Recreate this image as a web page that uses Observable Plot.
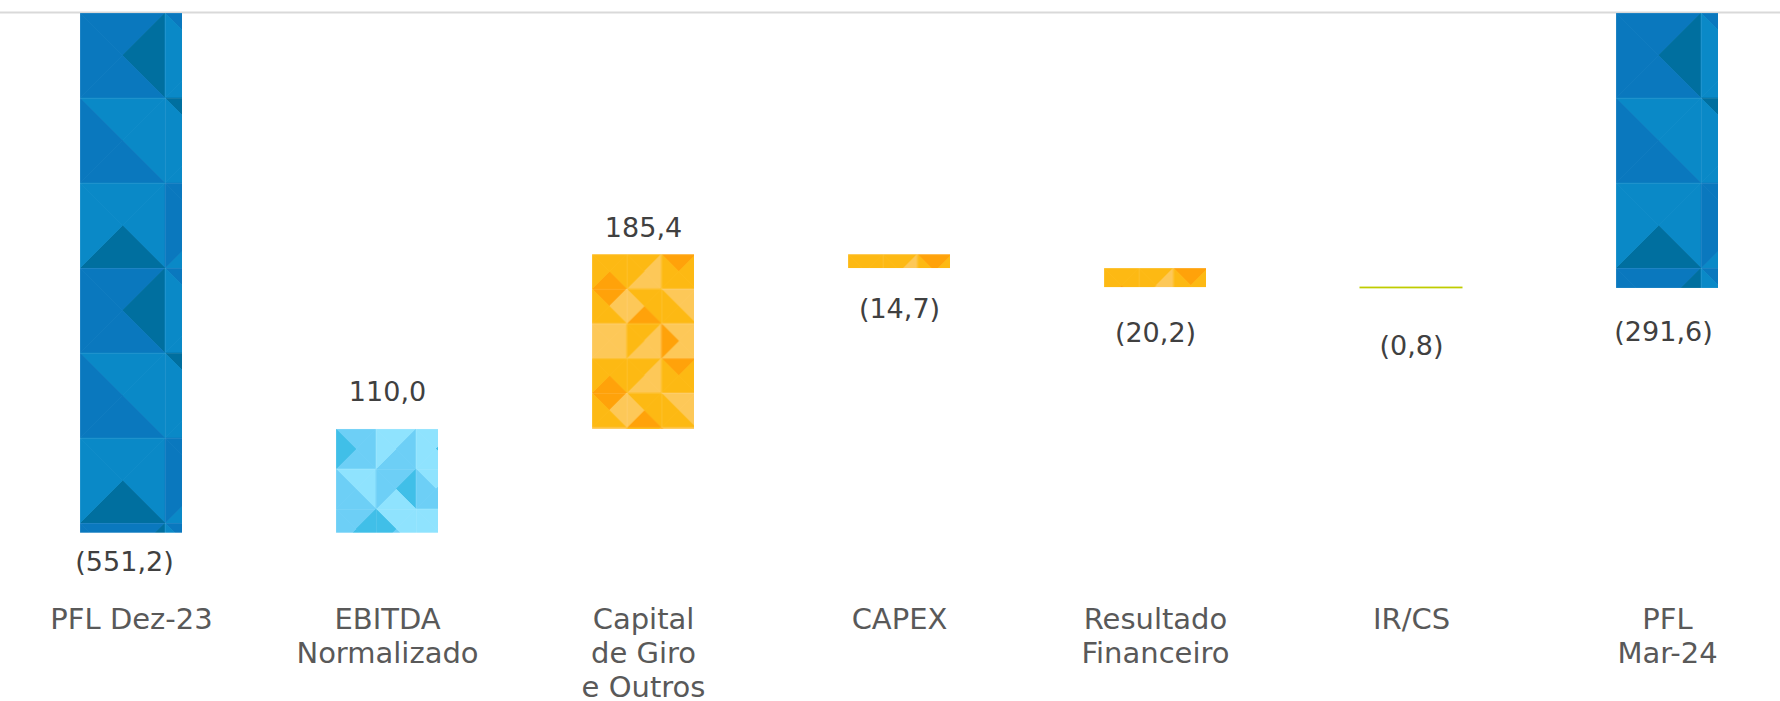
<!DOCTYPE html>
<html><head><meta charset="utf-8">
<script src="https://cdn.jsdelivr.net/npm/d3@7"></script>
<script src="https://cdn.jsdelivr.net/npm/@observablehq/plot@0.6"></script>
<style>html,body{margin:0;padding:0;background:#fff}#chart svg{display:block}</style>
</head><body><div id="chart"></div>
<script>
// ---- data ----
const categories = ["PFL Dez-23", "EBITDA Normalizado", "Capital de Giro e Outros", "CAPEX", "Resultado Financeiro", "IR/CS", "PFL Mar-24"];
const tickLabels = ["PFL Dez-23", "EBITDA\nNormalizado", "Capital\nde Giro\ne Outros", "CAPEX", "Resultado\nFinanceiro", "IR/CS", "PFL\nMar-24"];
const values = [-551.2, 110.0, 185.4, -14.7, -20.2, -0.8, -291.6];
const isTotal = [true, false, false, false, false, false, true];

// ---- style ----
const fillKind = {"PFL Dez-23": "blue", "EBITDA Normalizado": "light", "Capital de Giro e Outros": "yellow",
  "CAPEX": "yellow", "Resultado Financeiro": "yellow", "IR/CS": "green", "PFL Mar-24": "blue"};
const labelNudge = {"PFL Dez-23": [-7, 29], "EBITDA Normalizado": [0, -37], "Capital de Giro e Outros": [0, -26],
  "CAPEX": [0, 41], "Resultado Financeiro": [0, 46], "IR/CS": [0, 58], "PFL Mar-24": [-4, 44]};

const B0 = "#0a78be", B1 = "#0a89c7", B2 = "#006f9f";
const L0 = "#6dcff6", L1 = "#8fe3fe", L2 = "#40bfe8";
const Y0 = "#fdb913", Y1 = "#fdc858", Y2 = "#ffa20a";
const patterns = {
  blue: {cell: 85, line: 0.08, grid: [
    [[B0, B2, B0, B0], [B0, B0, B1, B1]],
    [[B1, B1, B0, B0], [B2, B1, B1, B1]],
    [[B1, B1, B2, B1], [B0, B0, B1, B0]]]},
  light: {cell: 40, line: 0.08, grid: [
    [[L0, L0, L0, L2], [L1, L0, L0, L1], [L1, L2, L1, L1]],
    [[L1, L1, L0, L0], [L0, L2, L1, L0], [L1, L0, L0, L0]],
    [[L0, L2, L2, L0], [L1, L1, L0, L2], [L1, L1, L1, L1]]]},
  yellow: {cell: 34.7, line: 0.1, grid: [
    [[Y0, Y0, Y2, Y0], [Y0, Y1, Y1, Y0], [Y2, Y0, Y0, Y0]],
    [[Y2, Y1, Y0, Y0], [Y0, Y0, Y2, Y1], [Y1, Y1, Y0, Y0]],
    [[Y1, Y1, Y1, Y1], [Y0, Y1, Y1, Y0], [Y1, Y1, Y1, Y2]]]}
};

// ---- build waterfall rows ----
let running = 0;
const rows = categories.map((cat, i) => {
  const v = values[i];
  let y1, y2;
  if (isTotal[i]) { y1 = 0; y2 = v; running = v; }
  else { y1 = running; y2 = running + v; running += v; }
  return {cat, label: tickLabels[i], value: v, y1, y2, anchor: v < 0 ? Math.min(y1, y2) : Math.max(y1, y2)};
});
const fmt = v => {
  const s = Math.abs(v).toFixed(1).replace(".", ",");
  return v < 0 ? `(${s})` : s;
};
const labelOf = Object.fromEntries(categories.map((c, i) => [c, tickLabels[i]]));

const barFill = {blue: "url(#pat-blue)", light: "url(#pat-light)", yellow: "url(#pat-yellow)", green: "#bfcc00"};
const barMarks = Object.keys(barFill).map(k => Plot.barY(rows.filter(r => fillKind[r.cat] === k), {
  x: "cat", y1: "y1", y2: "y2", fill: barFill[k],
  stroke: k === "green" ? "#bfcc00" : null, strokeWidth: k === "green" ? 1 : null
}));
const textMarks = rows.map(r => Plot.text([r], {
  x: "cat", y: "anchor", text: d => fmt(d.value), dx: labelNudge[r.cat][0], dy: labelNudge[r.cat][1],
  lineAnchor: "middle", fontSize: 27, fill: "#404040"
}));

const svg = Plot.plot({
  width: 1780, height: 701,
  marginLeft: 0, marginRight: 0, marginTop: 0, marginBottom: 101,
  style: {fontFamily: "DejaVu Sans, Verdana, sans-serif", color: "#595959", background: "#fff"},
  x: {domain: categories, range: [78.7, 1719.8], paddingInner: 0.6, paddingOuter: 0, label: null},
  y: {domain: [-551.2, 0], range: [532.7, 13], axis: null},
  marks: [
    Plot.ruleY([0], {stroke: "#d9d9d9", strokeWidth: 2, dy: -1}),
    ...barMarks,
    ...textMarks,
    Plot.axisX({anchor: "bottom", tickSize: 0, tickPadding: 4, fontSize: 29, lineHeight: 34 / 29,
      tickFormat: c => labelOf[c], fill: "#595959", label: null})
  ]
});

// ---- patterned fills, anchored at each bar's corner ----
const root = d3.select(svg);
const defs = root.insert("defs", ":first-child");
function addPattern(id, spec, x0, y0) {
  const {cell: s, grid, line} = spec;
  const nr = grid.length, nc = grid[0].length;
  const p = defs.append("pattern").attr("id", id).attr("patternUnits", "userSpaceOnUse")
    .attr("x", x0).attr("y", y0).attr("width", nc * s).attr("height", nr * s);
  grid.forEach((row, r) => row.forEach((tri, c) => {
    const cx = c * s, cy = r * s, mx = cx + s / 2, my = cy + s / 2;
    const edges = [[[cx, cy], [cx + s, cy]], [[cx + s, cy], [cx + s, cy + s]], [[cx + s, cy + s], [cx, cy + s]], [[cx, cy + s], [cx, cy]]];
    tri.forEach((col, k) => p.append("path")
      .attr("d", `M${edges[k][0]}L${edges[k][1]}L${mx},${my}Z`)
      .attr("fill", col).attr("stroke", col).attr("stroke-width", 0.7));
  }));
  for (let c = 0; c < nc; ++c) p.append("rect").attr("x", c * s).attr("y", 0).attr("width", 1).attr("height", nr * s).attr("fill", "#fff").attr("opacity", line);
  for (let r = 0; r < nr; ++r) p.append("rect").attr("x", 0).attr("y", r * s).attr("width", nc * s).attr("height", 1).attr("fill", "#fff").attr("opacity", line);
}
let pid = 0;
root.selectAll("g[fill^='url(']").each(function () {
  const g = d3.select(this);
  const name = g.attr("fill").match(/#pat-([a-z]+)/)[1];
  g.selectAll("rect").each(function () {
    const r = d3.select(this);
    const id = `pat-${name}-${pid++}`;
    addPattern(id, patterns[name], +r.attr("x"), +r.attr("y"));
    r.attr("fill", `url(#${id})`);
  });
});

document.getElementById("chart").appendChild(svg);
</script>
</body></html>
